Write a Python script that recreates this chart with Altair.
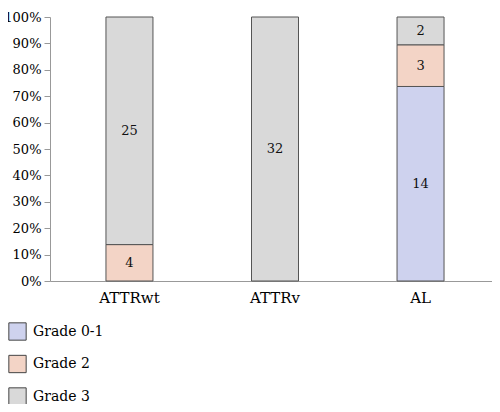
import altair as alt
import pandas as pd

categories = ["ATTRwt", "ATTRv", "AL"]
grades = ["Grade 0-1", "Grade 2", "Grade 3"]
grade01 = [0, 0, 14]
grade2 = [4, 0, 3]
grade3 = [25, 32, 2]
colors = ["#ced2ee", "#f3d4c6", "#d9d9d9"]
ytick_values = [0.0, 0.1, 0.2, 0.3, 0.4, 0.5, 0.6, 0.7, 0.8, 0.9, 1.0]

rows = []
for i, c in enumerate(categories):
    for g, vals in zip(grades, [grade01, grade2, grade3]):
        if vals[i] > 0:
            rows.append({"cat": c, "grade": g, "n": vals[i], "order": grades.index(g)})
df = pd.DataFrame(rows)

font = "DejaVu Serif"

base = alt.Chart(df).transform_joinaggregate(
    total="sum(n)", groupby=["cat"]
).transform_stack(
    stack="n", groupby=["cat"], sort=[alt.SortField("order", order="ascending")],
    as_=["y0", "y1"]
).transform_calculate(
    p0="datum.y0 / datum.total",
    p1="datum.y1 / datum.total",
    pm="(datum.y0 + datum.y1) / 2 / datum.total",
)

x_axis = alt.Axis(labelAngle=0, labelFont=font, labelFontSize=15,
                  labelColor="#000", ticks=False, domainColor="#999",
                  labelPadding=9)
x_scale = alt.Scale(range=[0, 450], paddingInner=0, paddingOuter=0.046)
y_axis = alt.Axis(format=".0%", values=ytick_values, tickCount=11,
                  labelFont=font, labelFontSize=13, labelColor="#000",
                  labelOverlap=False,
                  domainColor="#999", tickColor="#999", tickSize=6,
                  grid=False, labelPadding=3)
y_scale = alt.Scale(domain=[0, 1], nice=False)

bars = base.mark_bar(stroke="#555", strokeWidth=1, width=47).encode(
    x=alt.X("cat:N", sort=categories, title=None, scale=x_scale, axis=x_axis),
    y=alt.Y("p0:Q", title=None, scale=y_scale, axis=y_axis),
    y2="p1:Q",
    color=alt.Color("grade:N", sort=grades,
                    scale=alt.Scale(domain=grades, range=colors),
                    legend=alt.Legend(title=None, orient="none", legendX=-42, legendY=305,
                                      direction="vertical", symbolType="square",
                                      symbolSize=300, symbolStrokeColor="#444",
                                      symbolStrokeWidth=1, symbolOpacity=1,
                                      labelFont=font, labelFontSize=14,
                                      labelColor="#000", rowPadding=9.5,
                                      labelOffset=6)),
)

labels = base.mark_text(font=font, fontSize=13, color="#111").encode(
    x=alt.X("cat:N", sort=categories, title=None, scale=x_scale, axis=x_axis),
    y=alt.Y("pm:Q", title=None, scale=y_scale, axis=y_axis),
    text="n:Q",
)

chart = (bars + labels).properties(
    width=442, height=264,
    padding={"left": 42, "top": 9, "right": 0, "bottom": 123},
    autosize=alt.AutoSizeParams(type="none"),
).configure_view(stroke=None)

chart.save("out.html", embed_options={"renderer": "svg", "actions": False})
